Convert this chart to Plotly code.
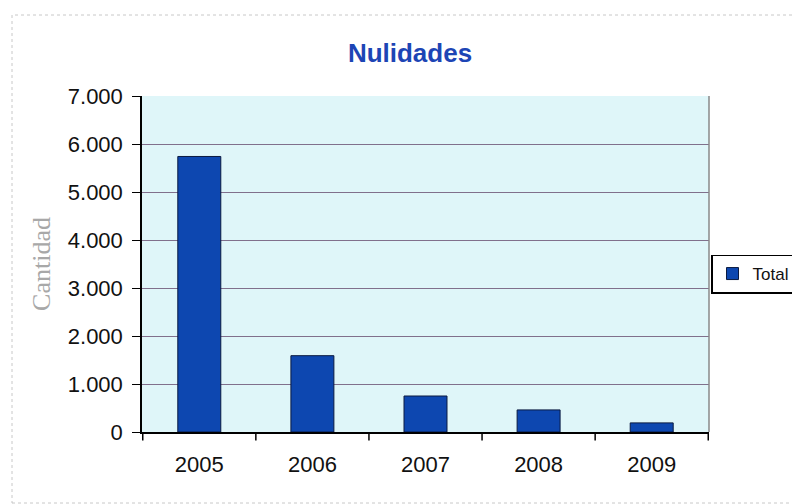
import plotly.graph_objects as go

years = ["2005", "2006", "2007", "2008", "2009"]
totals = [5740, 1590, 750, 460, 190]
y_ticks = [0, 1000, 2000, 3000, 4000, 5000, 6000, 7000]
y_labels = ["0", "1.000", "2.000", "3.000", "4.000", "5.000", "6.000", "7.000"]

# page body adds an 8px offset; figure is sized to fit the window
OFF = 8
W, H = 800 - OFF, 504 - OFF
L, T = 142 - OFF, 96 - OFF
R = W - (709 - OFF)
B = H - (432 - OFF)
pw, ph = W - L - R, H - T - B

def px_x(x):
    return (x - OFF - L) / pw

def px_y(y):
    return (H - B - (y - OFF)) / ph

fig = go.Figure()
fig.add_trace(go.Bar(
    x=years, y=totals, name="Total",
    marker=dict(color="#0d47b0", line=dict(color="#0a1a40", width=1)),
    width=0.38,
))

fig.update_layout(
    width=W, height=H,
    paper_bgcolor="white",
    plot_bgcolor="#dff6f9",
    margin=dict(l=L, r=R, t=T, b=B, autoexpand=False),
    title=dict(text="<b>Nulidades</b>", x=(410 - OFF) / W, xanchor="center", xref="container",
               yref="container", y=1 - (53 - OFF) / H, yanchor="middle",
               font=dict(family="Liberation Sans, Arial", size=26, color="#1d45b5")),
    font=dict(family="Liberation Sans, Arial", size=22, color="#111111"),
    showlegend=True,
    legend=dict(x=px_x(711), y=px_y(274), xanchor="left", yanchor="middle",
                bordercolor="black", borderwidth=1.5, bgcolor="white",
                font=dict(family="Liberation Sans, Arial", size=17, color="#111111")),
    bargap=0.62,
)
fig.update_xaxes(
    type="category", showline=True, linecolor="black", linewidth=1.5,
    ticks="outside", ticklen=0, tickfont=dict(size=22), ticklabelstandoff=12,
    showgrid=False,
)
fig.update_yaxes(
    range=[0, 7000], tickvals=y_ticks, ticktext=y_labels,
    showline=True, linecolor="black", linewidth=1.5,
    ticks="outside", ticklen=8, tickcolor="black", ticklabelstandoff=5,
    gridcolor="#80708c", gridwidth=1,
    tickfont=dict(size=22),
    title=dict(text="Cantidad", font=dict(family="Liberation Serif, Times New Roman", size=26, color="#a8a8a8"), standoff=10),
    zeroline=False,
)
# right frame of plot area
fig.add_shape(type="line", xref="paper", yref="paper", x0=1, y0=0, x1=1, y1=1,
              line=dict(color="#888888", width=1.5))
# category separator tick marks on x axis
for i in range(len(years) + 1):
    fig.add_shape(type="line", xref="x", yref="paper", x0=i - 0.5, x1=i - 0.5, y0=0, y1=-0.025,
                  line=dict(color="black", width=1.5))
# outer light border of chart area
fig.add_shape(type="rect", xref="paper", yref="paper",
              x0=px_x(12), y0=px_y(503), x1=px_x(800), y1=px_y(15),
              line=dict(color="#c8c8c8", width=1, dash="dot"))

fig.write_html("out.html")
